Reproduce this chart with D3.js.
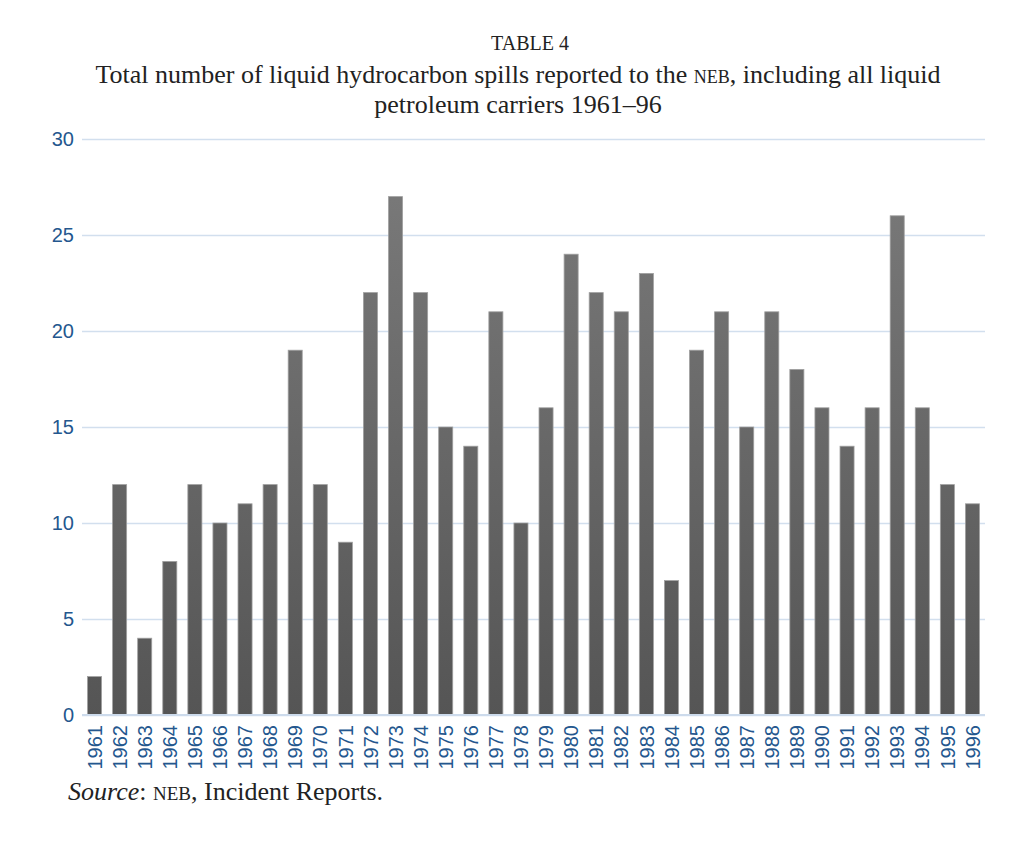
<!DOCTYPE html>
<html><head><meta charset="utf-8">
<script src="https://cdn.jsdelivr.net/npm/d3@7/dist/d3.min.js"></script>
<style>body{margin:0;background:#fff}</style>
</head><body>
<svg id="c" width="1024" height="852"></svg>
<script>
const years = ["1961","1962","1963","1964","1965","1966","1967","1968","1969","1970","1971","1972","1973","1974","1975","1976","1977","1978","1979","1980","1981","1982","1983","1984","1985","1986","1987","1988","1989","1990","1991","1992","1993","1994","1995","1996"];
const spills = [2,12,4,8,12,10,11,12,19,12,9,22,27,22,15,14,21,10,16,24,22,21,23,7,19,21,15,21,18,16,14,16,26,16,12,11];
const yTicks = [0,5,10,15,20,25,30];

const svg = d3.select("#c");
const m = {l:82, r:985, t:139, b:715};
const x = d3.scaleBand().domain(years).range([m.l, m.r]).paddingInner(0.44).paddingOuter(0.22);
const y = d3.scaleLinear().domain([0,30]).range([m.b, m.t]);

const defs = svg.append("defs");
const g = defs.append("linearGradient").attr("id","bg").attr("gradientUnits","userSpaceOnUse")
  .attr("x1",0).attr("x2",0).attr("y1",y(30)).attr("y2",y(0));
g.append("stop").attr("offset","0").attr("stop-color","#7c7c7c");
g.append("stop").attr("offset","1").attr("stop-color","#555555");

const sans = "'Liberation Sans',Arial,sans-serif";
const blue = "#24578e";

// grid
const yAxis = d3.axisLeft(y).tickValues(yTicks).tickSize(-(m.r-m.l)).tickPadding(8);
const ga = svg.append("g").attr("transform",`translate(${m.l},0)`).call(yAxis);
ga.select(".domain").remove();
ga.selectAll(".tick line").attr("stroke","#d2dfee").attr("stroke-width",1.5);
ga.selectAll(".tick text").attr("fill",blue).style("font-family",sans).style("font-size","20px");

// bars
svg.append("g").selectAll("rect").data(spills).join("rect")
  .attr("x",(d,i)=>x(years[i])).attr("width",x.bandwidth())
  .attr("y",d=>y(d)).attr("height",d=>y(0)-y(d))
  .attr("fill","url(#bg)").attr("stroke","#a0a0a0").attr("stroke-width",0.8);

// baseline
svg.append("line").attr("x1",m.l).attr("x2",m.r).attr("y1",y(0)).attr("y2",y(0)).attr("stroke","#cddbec").attr("stroke-width",2);

// x axis
const xAxis = d3.axisBottom(x).tickSize(0).tickPadding(0);
const gx = svg.append("g").attr("transform",`translate(0,${m.b})`).call(xAxis);
gx.select(".domain").remove();
gx.selectAll(".tick text").attr("fill",blue).style("font-family",sans).style("font-size","20px")
  .attr("transform","rotate(-90)").attr("text-anchor","end").attr("x",-10).attr("y",0).attr("dy","0.36em");

// titles
const serif = "'Liberation Serif','Times New Roman',serif";
svg.append("text").attr("x",530).attr("y",50).attr("text-anchor","middle").style("font-family",serif).style("font-size","20px").attr("fill","#222").text("TABLE 4");
const t = svg.append("text").attr("text-anchor","middle").style("font-family",serif).style("font-size","26px").attr("fill","#222");
const l1 = t.append("tspan").attr("x",518).attr("y",83);
l1.append("tspan").text("Total number of liquid hydrocarbon spills reported to the ");
l1.append("tspan").style("font-size","18px").text("NEB");
l1.append("tspan").text(", including all liquid");
t.append("tspan").attr("x",518).attr("y",113).text("petroleum carriers 1961–96");

const s = svg.append("text").attr("x",68).attr("y",800).style("font-family",serif).style("font-size","26px").attr("fill","#222");
s.append("tspan").style("font-style","italic").text("Source");
s.append("tspan").text(": ");
s.append("tspan").style("font-size","19px").text("NEB");
s.append("tspan").text(", Incident Reports.");
</script>
</body></html>
